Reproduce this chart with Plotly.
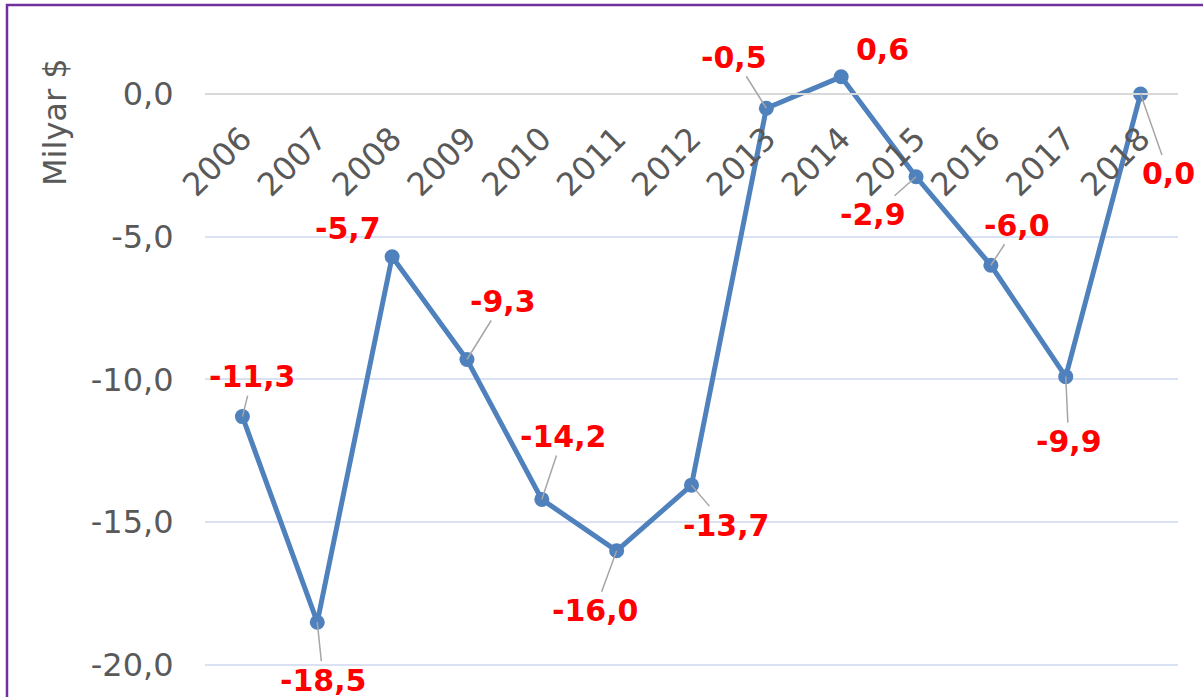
import plotly.graph_objects as go

years = ["2006", "2007", "2008", "2009", "2010", "2011", "2012",
         "2013", "2014", "2015", "2016", "2017", "2018"]
values = [-11.3, -18.5, -5.7, -9.3, -14.2, -16.0, -13.7,
          -0.5, 0.6, -2.9, -6.0, -9.9, 0.0]
label_texts = ["-11,3", "-18,5", "-5,7", "-9,3", "-14,2", "-16,0", "-13,7",
               "-0,5", "0,6", "-2,9", "-6,0", "-9,9", "0,0"]
y_tick_vals = [0, -5, -10, -15, -20]
y_tick_text = ["0,0", "-5,0", "-10,0", "-15,0", "-20,0"]

# label offsets (pixels) and whether a leader line is drawn
label_ax = [10, 6, -44, 36, 21, -22, 34, -32, 41, -43, 26, 3, 28]
label_ay = [-40, 58, -28, -58, -63, 60, 40, -51, -27, 38, -40, 65, 80]
leader = [True, True, False, True, True, True, True, True, False, True, True, True, True]

W, H = 1203, 697
ML, MR, MT, MB = 205, 25, 20, 0
plot_w = W - ML - MR
plot_h = H - MT - MB
Y_MAX, Y_MIN = 2.59, -21.12
zero_pos = (0 - Y_MIN) / (Y_MAX - Y_MIN)

FONT = "DejaVu Sans"
GRAY = "#595959"

fig = go.Figure()
fig.add_trace(go.Scatter(
    x=years, y=values, mode="lines+markers",
    line=dict(color="#4F81BD", width=5),
    marker=dict(color="#4F81BD", size=15),
    cliponaxis=False, showlegend=False, hoverinfo="x+y",
))

annotations = []
for i, (v, t, ax, ay, ld) in enumerate(zip(values, label_texts, label_ax, label_ay, leader)):
    common = dict(x=i, y=v, xref="x", yref="y", text=t,
                  font=dict(family=FONT, size=30, color="#FF0000", weight="bold"))
    if ld:
        annotations.append(dict(
            showarrow=True, ax=ax, ay=ay, arrowhead=0, arrowwidth=1.5,
            arrowcolor="#A6A6A6", standoff=0, borderpad=1, **common))
    else:
        annotations.append(dict(showarrow=False, xshift=ax, yshift=-ay, **common))

# y-axis title
annotations.append(dict(
    text="Milyar $", xref="paper", yref="paper",
    x=(55 - ML) / plot_w, y=(H - 122 - MB) / plot_h,
    xanchor="center", yanchor="middle",
    showarrow=False, textangle=-90,
    font=dict(family=FONT, size=32, color=GRAY),
))

fig.update_layout(
    width=W, height=H,
    margin=dict(l=ML, r=MR, t=MT, b=MB, pad=0),
    paper_bgcolor="white", plot_bgcolor="white",
    annotations=annotations,
    xaxis=dict(
        type="category", anchor="free", position=zero_pos,
        showline=True, linecolor="#D9D9D9", linewidth=2,
        showgrid=False, ticks="outside", ticklen=12,
        tickcolor="rgba(0,0,0,0)", tickangle=-45,
        tickfont=dict(family=FONT, size=32, color=GRAY),
        range=[-0.5, len(years) - 0.5], zeroline=False,
    ),
    yaxis=dict(
        range=[Y_MIN, Y_MAX], tickvals=y_tick_vals, ticktext=y_tick_text,
        showgrid=True, gridcolor="#D9E1F2", gridwidth=2,
        zeroline=False, showline=False, ticks="outside", ticklen=24,
        tickcolor="rgba(0,0,0,0)",
        tickfont=dict(family=FONT, size=32, color=GRAY),
    ),
    shapes=[dict(
        type="rect", xref="paper", yref="paper",
        x0=(7 - ML) / plot_w, x1=(W + 10 - ML) / plot_w,
        y0=-0.1, y1=(H - 5 - MB) / plot_h,
        line=dict(color="#7030A0", width=2.5), fillcolor="rgba(0,0,0,0)",
        layer="below",
    )],
)

fig.write_html("out.html", config={"displayModeBar": False},
               post_script="document.body.style.margin='0px';")
